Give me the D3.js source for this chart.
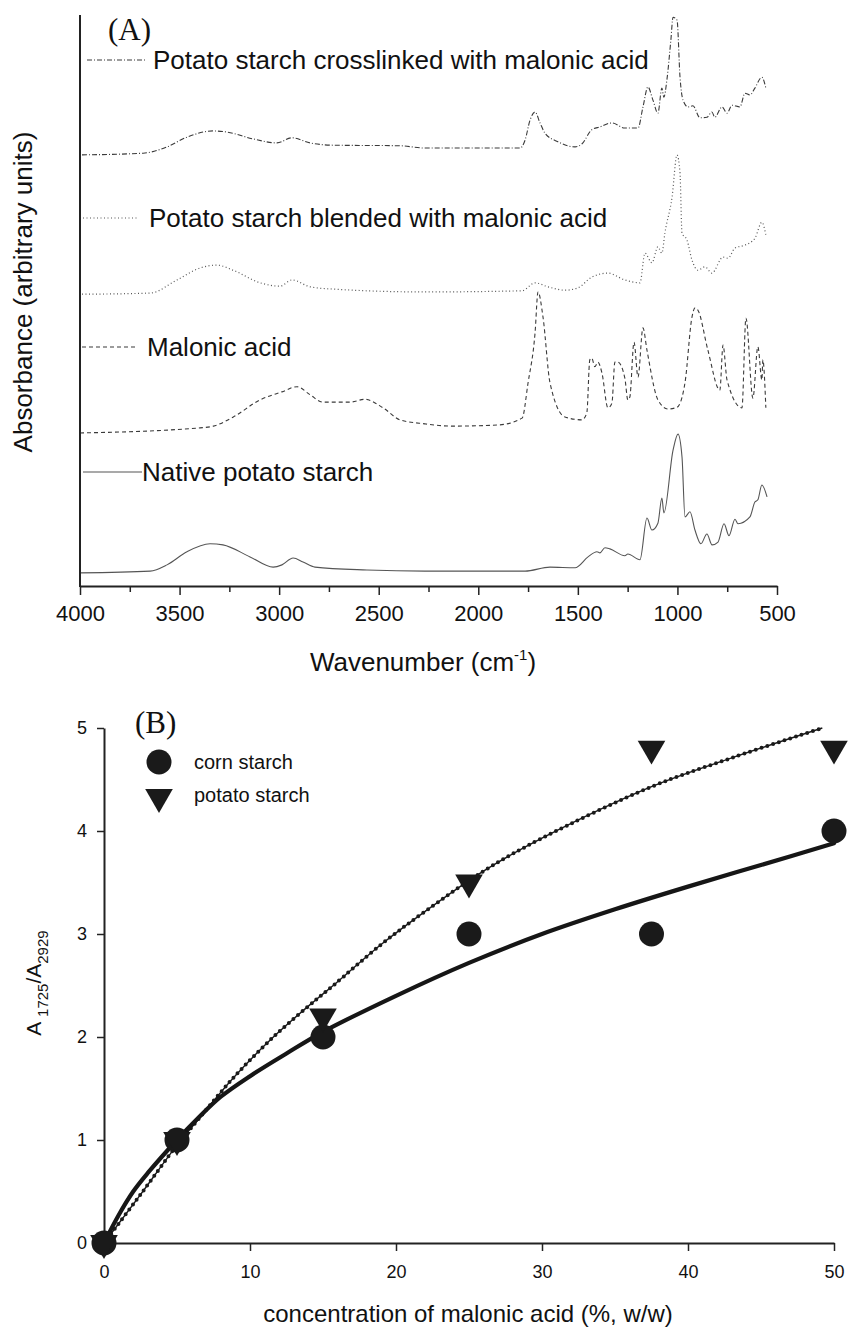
<!DOCTYPE html>
<html>
<head>
<meta charset="utf-8">
<script src="https://cdn.jsdelivr.net/npm/d3@7"></script>
<style>
  body { margin: 0; background: #fff; }
  text { font-family: Arial, "Liberation Sans", sans-serif; fill: #111; }
  .panelLabel { font-family: "Times New Roman", "Liberation Serif", serif; font-size: 31px; }
</style>
</head>
<body>
<svg id="svgCanvas" width="850" height="1328"></svg>
<script>
// ---- panel A : FTIR spectra, [wavenumber, absorbance (a.u., stacked)] ----
var crosslinked = [[3990,75.5],[3683,75.8],[3563,76.9],[3463,78.6],[3332,79.7],[3262,79.5],[3131,78.3],[3011,77.6],
    [2935,78.5],[2845,77.6],[2730,77.2],[2393,77.1],[2268,76.7],[1931,76.7],[1790,76.7],[1765,78.1],[1740,81.6],
    [1715,83.0],[1690,81.1],[1665,79.3],[1600,77.8],[1514,76.9],[1480,77.4],[1430,79.9],[1389,80.4],[1329,81.1],
    [1264,80.2],[1198,80.2],[1173,83.9],[1148,87.4],[1123,85.1],[1098,82.8],[1078,87.2],[1068,85.6],[1053,88.6],
    [1033,95.6],[1022,99.6],[1002,99.1],[987,89.1],[972,85.1],[947,83.9],[922,84.1],[887,82.0],[852,82.1],
    [827,83.0],[812,82.1],[776,83.9],[751,82.8],[726,84.2],[686,83.9],[661,86.3],[636,86.0],[611,87.2],
    [576,89.1],[556,87.2]];
var blended = [[3990,51.1],[3648,51.3],[3513,53.6],[3397,55.7],[3312,56.2],[3231,55.3],[3096,53.1],[2996,52.5],
    [2935,53.6],[2845,52.4],[2730,52.0],[2268,51.5],[1780,51.7],[1715,53.1],[1650,52.4],[1565,51.8],[1500,52.2],
    [1430,54.1],[1349,54.8],[1264,53.6],[1188,53.1],[1163,58.3],[1128,56.6],[1098,59.4],[1078,58.3],[1063,61.8],
    [1027,68.1],[1002,75.5],[987,72.3],[977,61.8],[952,60.6],[927,57.1],[897,55.3],[862,55.9],[827,54.8],
    [771,57.6],[746,57.4],[711,59.2],[661,59.7],[611,60.9],[576,63.7],[556,61.5]];
var malonic = [[4000,26.8],[3397,27.7],[3330,28.0],[3230,29.6],[3096,32.6],[2986,34.0],[2910,34.9],[2845,33.5],
    [2780,32.2],[2644,32.2],[2569,32.7],[2478,31.2],[2393,29.1],[2268,28.4],[2132,28.0],[1901,28.2],[1780,29.4],
    [1750,35.6],[1715,44.3],[1700,51.5],[1675,47.1],[1640,35.6],[1565,29.6],[1480,29.1],[1455,30.3],[1440,39.6],
    [1430,39.9],[1415,38.4],[1399,39.2],[1379,37.3],[1349,31.2],[1329,32.0],[1314,39.2],[1299,39.2],[1264,36.4],
    [1249,32.6],[1239,33.1],[1218,42.7],[1198,36.6],[1173,45.2],[1153,41.3],[1098,32.6],[1048,31.0],[1002,31.3],
    [962,35.6],[927,47.1],[912,48.7],[897,48.3],[847,41.3],[787,34.3],[771,42.2],[751,36.1],[676,31.2],
    [656,46.9],[621,32.9],[596,41.9],[576,36.1],[571,39.6],[556,31.2]];
var nativeStarch = [[4000,2.3],[3648,2.6],[3563,3.7],[3463,6.0],[3347,7.4],[3282,7.2],[3146,5.1],[3030,3.3],
    [2986,3.7],[2930,4.9],[2880,4.2],[2820,3.3],[2559,2.8],[2268,2.6],[1765,2.6],[1640,3.3],[1514,3.2],
    [1449,5.1],[1404,6.0],[1389,5.8],[1364,6.7],[1339,6.5],[1264,5.3],[1249,5.6],[1188,4.6],[1153,11.9],
    [1128,9.8],[1098,11.0],[1078,15.4],[1068,12.8],[1022,23.8],[997,26.6],[977,22.6],[962,12.1],[937,13.0],
    [912,9.8],[882,7.4],[852,9.1],[826,7.2],[796,7.7],[766,10.9],[741,8.8],[711,11.7],[696,10.9],[636,12.1],
    [611,14.7],[596,15.1],[576,17.7],[550,15.6]];
var spectraNames = ["Potato starch crosslinked with malonic acid", "Potato starch blended with malonic acid",
    "Malonic acid", "Native potato starch"];
var wnTicks = [4000, 3500, 3000, 2500, 2000, 1500, 1000, 500];

// ---- panel B : A1725/A2929 ratio vs malonic acid concentration ----
var concCorn = [0, 5, 15, 25, 37.5, 50];
var ratioCorn = [0, 1, 2, 3, 3, 4];
var concPotato = [0, 5, 15, 25, 37.5, 50];
var ratioPotato = [0, 1, 2.2, 3.5, 4.8, 4.8];
// fitted curves
var fitCornX = [0, 1, 2, 3, 5, 6.5, 8, 10, 12.5, 15, 20, 25, 30, 35, 40, 45, 50];
var fitCornY = [0, 0.27, 0.5, 0.68, 1.0, 1.22, 1.42, 1.62, 1.84, 2.05, 2.4, 2.72, 3.0, 3.24, 3.46, 3.67, 3.88];
var fitPotatoX = [0, 2.5, 5, 6.4, 8.9, 11.6, 14.5, 15.7, 19, 22, 26.1, 30, 37.5, 43, 49.2];
var fitPotatoY = [0, 0.47, 0.95, 1.19, 1.61, 2.0, 2.36, 2.5, 2.9, 3.22, 3.62, 3.93, 4.43, 4.71, 5.0];
var ratioTicks = [0, 1, 2, 3, 4, 5];
var concTicks = [0, 10, 20, 30, 40, 50];

var canvas = d3.select("#svgCanvas");
canvas.append("rect").attr("width", 850).attr("height", 1328).attr("fill", "#fff");

//=========== panel A
var xA = d3.scaleLinear().domain([4000, 500]).range([80, 777]);
var yA = d3.scaleLinear().domain([0, 100]).range([586, 15]);

var styles = [
    {data: crosslinked, dash: "5,2,1,2", color: "#3a3a3a", width: 1.1},
    {data: blended, dash: "1,2.5", color: "#555", width: 1.2},
    {data: malonic, dash: "4,3", color: "#3a3a3a", width: 1.1},
    {data: nativeStarch, dash: null, color: "#555", width: 1.1}
];

var specLine = d3.line()
    .x(function(d) { return xA(d[0]); })
    .y(function(d) { return yA(d[1]); })
    .curve(d3.curveMonotoneX);

for (var i = 0; i < styles.length; i++) {
    canvas.append("path")
        .attr("d", specLine(styles[i].data))
        .attr("fill", "none")
        .attr("stroke", styles[i].color)
        .attr("stroke-width", styles[i].width)
        .attr("stroke-dasharray", styles[i].dash);
}

// legend entries sit above each trace
var legA = [{y: 60, x1: 87, x2: 146, tx: 153}, {y: 218, x1: 83, x2: 137, tx: 149},
            {y: 347, x1: 82, x2: 136, tx: 147}, {y: 472, x1: 83, x2: 142, tx: 142}];
for (i = 0; i < legA.length; i++) {
    canvas.append("line")
        .attr("x1", legA[i].x1).attr("x2", legA[i].x2)
        .attr("y1", legA[i].y).attr("y2", legA[i].y)
        .attr("stroke", styles[i].color)
        .attr("stroke-width", styles[i].width)
        .attr("stroke-dasharray", styles[i].dash);
    canvas.append("text")
        .attr("x", legA[i].tx)
        .attr("y", legA[i].y + 9)
        .attr("font-size", 26)
        .text(spectraNames[i]);
}

// axes
canvas.append("line")
    .attr("x1", 80).attr("x2", 80).attr("y1", 15).attr("y2", 587)
    .attr("stroke", "#222").attr("stroke-width", 2);

var minorA = d3.range(3750, 500, -500);
canvas.append("g")
    .attr("transform", "translate(0,586)")
    .call(d3.axisBottom(xA).tickValues(minorA).tickSize(6).tickFormat(""))
    .call(function(g) { g.select(".domain").remove(); })
    .selectAll("line").attr("stroke", "#222").attr("stroke-width", 1.5);

var axA = canvas.append("g")
    .attr("transform", "translate(0,586)")
    .call(d3.axisBottom(xA).tickValues(wnTicks).tickSize(9).tickSizeOuter(0).tickPadding(10).tickFormat(d3.format("d")));
axA.select(".domain").attr("stroke", "#222").attr("stroke-width", 2);
axA.selectAll(".tick line").attr("stroke", "#222").attr("stroke-width", 1.5);
axA.selectAll("text").attr("font-size", 22).attr("font-family", "Arial, 'Liberation Sans', sans-serif").attr("fill", "#111");

var xTitleA = canvas.append("text")
    .attr("x", 423).attr("y", 671)
    .attr("text-anchor", "middle")
    .attr("font-size", 26);
xTitleA.append("tspan").text("Wavenumber (cm");
xTitleA.append("tspan").attr("font-size", 15).attr("dy", -11).text("-1");
xTitleA.append("tspan").attr("dy", 11).text(")");

canvas.append("text")
    .attr("transform", "translate(32,292) rotate(-90)")
    .attr("text-anchor", "middle")
    .attr("font-size", 26)
    .text("Absorbance (arbitrary units)");

canvas.append("text").attr("class", "panelLabel").attr("x", 108).attr("y", 40).text("(A)");

//=========== panel B
var xB = d3.scaleLinear().domain([0, 50]).range([104, 834]);
var yB = d3.scaleLinear().domain([0, 5]).range([1243, 728]);

var axBx = canvas.append("g")
    .attr("transform", "translate(0,1243)")
    .call(d3.axisBottom(xB).tickValues(concTicks).tickSize(8).tickSizeOuter(0).tickPadding(14).tickFormat(d3.format("d")));
var axBy = canvas.append("g")
    .attr("transform", "translate(104,0)")
    .call(d3.axisLeft(yB).tickValues(ratioTicks).tickSize(7).tickSizeOuter(0).tickPadding(10).tickFormat(d3.format("d")));
[axBx, axBy].forEach(function(ax) {
    ax.select(".domain").attr("stroke", "#222").attr("stroke-width", 2);
    ax.selectAll(".tick line").attr("stroke", "#222").attr("stroke-width", 1.5);
    ax.selectAll("text").attr("font-size", 18).attr("font-family", "Arial, 'Liberation Sans', sans-serif").attr("fill", "#222");
});

var fitLine = d3.line()
    .x(function(d) { return xB(d[0]); })
    .y(function(d) { return yB(d[1]); })
    .curve(d3.curveCatmullRom);

var potatoFit = d3.zip(fitPotatoX, fitPotatoY);
var cornFit = d3.zip(fitCornX, fitCornY);

canvas.append("path")
    .attr("d", fitLine(potatoFit))
    .attr("fill", "none").attr("stroke", "#1a1a1a").attr("stroke-width", 1.4);
canvas.append("path")
    .attr("d", fitLine(potatoFit))
    .attr("fill", "none").attr("stroke", "#1a1a1a").attr("stroke-width", 4)
    .attr("stroke-linecap", "round").attr("stroke-dasharray", "0,6");
canvas.append("path")
    .attr("d", fitLine(cornFit))
    .attr("fill", "none").attr("stroke", "#161616").attr("stroke-width", 4.2)
    .attr("stroke-linecap", "round");

var triangle = d3.symbol().type(d3.symbolTriangle).size(330);

canvas.selectAll(".corn")
    .data(d3.zip(concCorn, ratioCorn))
    .enter().append("circle")
    .attr("class", "corn")
    .attr("cx", function(d) { return xB(d[0]); })
    .attr("cy", function(d) { return yB(d[1]); })
    .attr("r", 12.5)
    .attr("fill", "#1a1a1a");

canvas.selectAll(".potato")
    .data(d3.zip(concPotato, ratioPotato))
    .enter().append("path")
    .attr("class", "potato")
    .attr("d", triangle)
    .attr("transform", function(d) { return "translate(" + xB(d[0]) + "," + yB(d[1]) + ") rotate(180)"; })
    .attr("fill", "#1a1a1a");

// legend B
canvas.append("circle").attr("cx", 159).attr("cy", 762).attr("r", 12.5).attr("fill", "#1a1a1a");
canvas.append("path").attr("d", triangle).attr("transform", "translate(159,797) rotate(180)").attr("fill", "#1a1a1a");
canvas.append("text").attr("x", 194).attr("y", 769).attr("font-size", 20).attr("fill", "#222").text("corn starch");
canvas.append("text").attr("x", 194).attr("y", 802).attr("font-size", 20).attr("fill", "#222").text("potato starch");

canvas.append("text").attr("class", "panelLabel").attr("x", 135).attr("y", 733).text("(B)");

var yTitleB = canvas.append("text")
    .attr("transform", "translate(41,983) rotate(-90)")
    .attr("text-anchor", "middle")
    .attr("font-size", 21)
    .attr("fill", "#222");
yTitleB.append("tspan").text("A ");
yTitleB.append("tspan").attr("font-size", 15).attr("dy", 7).text("1725");
yTitleB.append("tspan").attr("dy", -7).text("/A");
yTitleB.append("tspan").attr("font-size", 15).attr("dy", 7).text("2929");

canvas.append("text")
    .attr("x", 468).attr("y", 1322)
    .attr("text-anchor", "middle")
    .attr("font-size", 24)
    .attr("fill", "#222")
    .text("concentration of malonic acid (%, w/w)");
</script>
</body>
</html>
